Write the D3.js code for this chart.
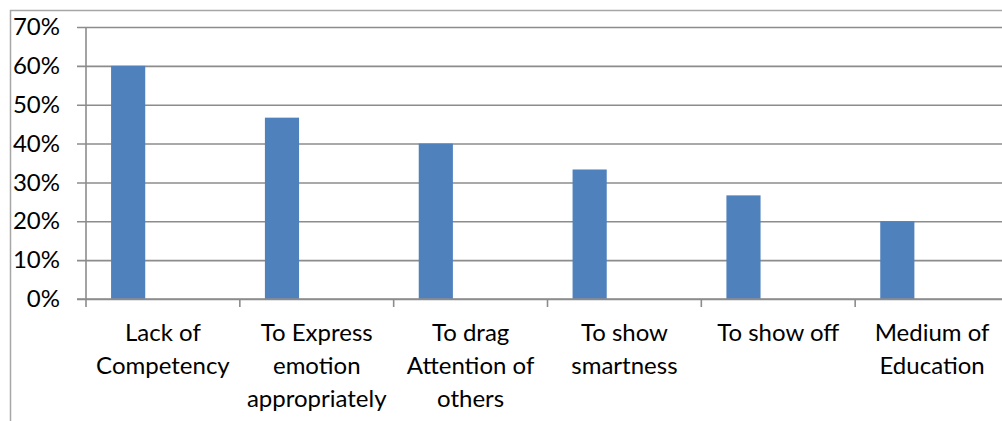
<!DOCTYPE html>
<html>
<head>
<meta charset="utf-8">
<script src="https://cdn.jsdelivr.net/npm/d3@7"></script>
<style>
  html, body { margin: 0; padding: 0; background: #fff; }
  svg { display: block; }
  text { font-family: Lato, "Open Sans", sans-serif; fill: #000; }
</style>
</head>
<body>
<svg id="chart" width="1002" height="421"></svg>
<script>
// Reasons and their share of responses
const categories = [
  ["Lack of", "Competency"],
  ["To Express", "emotion", "appropriately"],
  ["To drag", "Attention of", "others"],
  ["To show", "smartness"],
  ["To show off"],
  ["Medium of", "Education"]
];
const values = [0.60, 0.4667, 0.40, 0.3333, 0.2667, 0.20];
const yTicks = [0, 0.1, 0.2, 0.3, 0.4, 0.5, 0.6, 0.7];

const svg = d3.select("#chart");
const W = 1002, H = 421;

const plot = { left: 86, right: 1009, top: 27, bottom: 299 };
const keys = categories.map((c, i) => i);

const x = d3.scaleBand().domain(keys).range([plot.left, plot.right]).padding(0);
const y = d3.scaleLinear().domain([0, 0.7]).range([plot.bottom, plot.top]);

// Outer chart frame (clipped on the right and bottom)
svg.append("path")
  .attr("d", `M10.5,${H} V10.5 H${W}`)
  .attr("fill", "none")
  .attr("stroke", "#a6a6a6")
  .attr("stroke-width", 1.5);

// Gridlines + y tick labels
const yAxis = d3.axisLeft(y)
  .tickValues(yTicks)
  .tickFormat(d3.format(".0%"))
  .tickSize(-(plot.right - 77))
  .tickPadding(17);

const gy = svg.append("g")
  .attr("transform", "translate(77,0)")
  .call(yAxis);
gy.select(".domain").remove();
gy.selectAll(".tick line")
  .attr("stroke", "#8c8c8c")
  .attr("stroke-width", 1.6);
gy.selectAll(".tick text")
  .style("font-size", "24px")
  .attr("fill", "#000");

// Bars
const bw = x.bandwidth();
svg.append("g")
  .selectAll("rect")
  .data(values)
  .join("rect")
  .attr("x", (d, i) => x(i) + bw * 0.163)
  .attr("width", bw * 0.222)
  .attr("y", d => y(d))
  .attr("height", d => y(0) - y(d))
  .attr("fill", "#4f81bd");

// Y axis line
svg.append("line")
  .attr("x1", plot.left).attr("x2", plot.left)
  .attr("y1", plot.top).attr("y2", plot.bottom)
  .attr("stroke", "#8c8c8c")
  .attr("stroke-width", 1.6);

// X axis baseline and category boundary ticks
svg.append("line")
  .attr("x1", 77).attr("x2", plot.right)
  .attr("y1", y(0)).attr("y2", y(0))
  .attr("stroke", "#8c8c8c")
  .attr("stroke-width", 1.6);

const bounds = keys.map(k => x(k)).concat([x(keys[keys.length - 1]) + bw]);
svg.append("g")
  .selectAll("line")
  .data(bounds)
  .join("line")
  .attr("x1", d => d).attr("x2", d => d)
  .attr("y1", y(0)).attr("y2", y(0) + 8)
  .attr("stroke", "#8c8c8c")
  .attr("stroke-width", 1.6);

// Category labels (multi-line)
const labels = svg.append("g")
  .selectAll("text")
  .data(categories)
  .join("text")
  .attr("text-anchor", "middle")
  .style("font-size", "24px")
  .attr("transform", (d, i) => `translate(${x(i) + bw / 2},341)`);

labels.selectAll("tspan")
  .data(d => d)
  .join("tspan")
  .attr("x", 0)
  .attr("y", (d, j) => j * 33)
  .text(d => d);
</script>
</body>
</html>
